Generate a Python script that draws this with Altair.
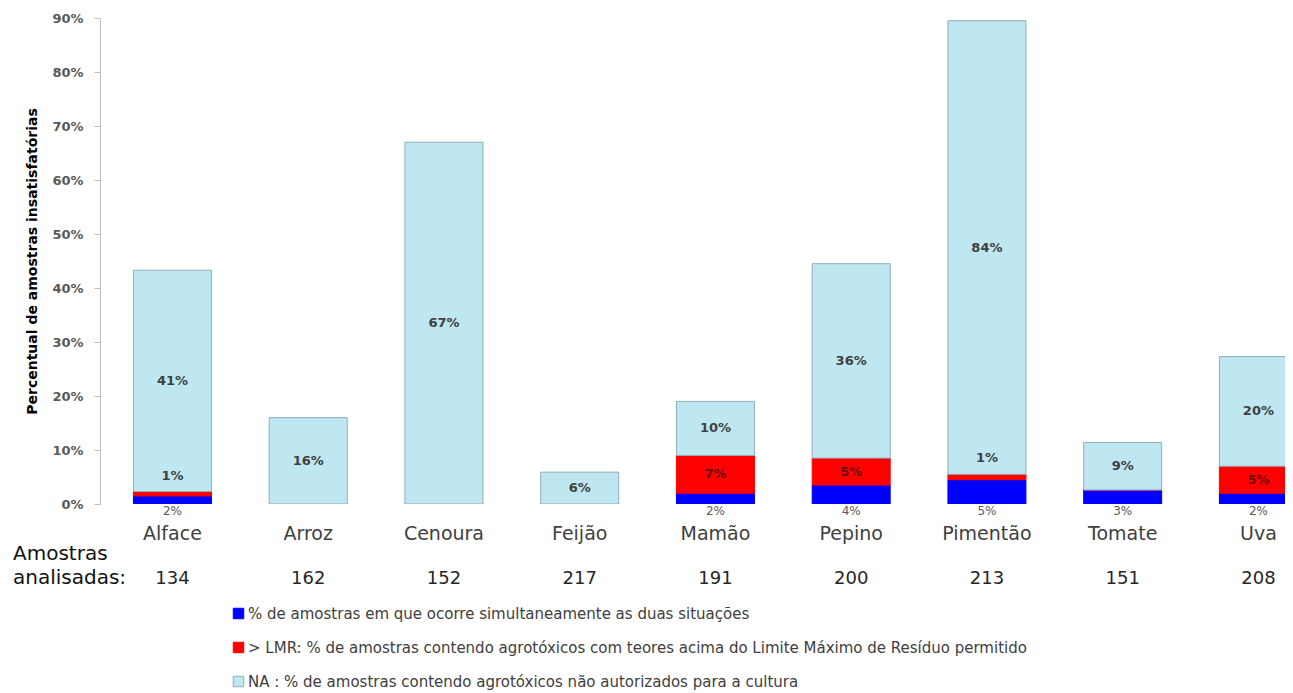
import altair as alt
import pandas as pd

categorias = ["Alface", "Arroz", "Cenoura", "Feijão", "Mamão", "Pepino", "Pimentão", "Tomate", "Uva"]
amostras = [134, 162, 152, 217, 191, 200, 213, 151, 208]
simultaneo = [1.5, 0, 0, 0, 2, 3.5, 4.5, 2.6, 2]
acima_lmr = [0.8, 0, 0, 0, 7, 5, 1, 0, 5]
nao_autorizado = [41, 16, 67, 5.9, 10, 36, 84, 8.8, 20.3]

series = [
    "% de amostras em que ocorre simultaneamente as duas situações",
    "> LMR: % de amostras contendo agrotóxicos com teores acima do Limite Máximo de Resíduo permitido",
    "NA : % de amostras contendo agrotóxicos não autorizados para a cultura",
]
cores = ["#0000FF", "#FF0000", "#BEE7F1"]
bordas = ["#0000FF", "#FF0000", "#8FAEB8"]

rows = []
for i, cat in enumerate(categorias):
    base = 0.0
    for k, vals in enumerate([simultaneo, acima_lmr, nao_autorizado]):
        v = vals[i]
        rows.append({
            "idx": i, "categoria": cat, "serie": series[k], "ordem": k,
            "valor": v, "base": base, "topo": base + v, "meio": base + v / 2,
            "rotulo": f"{round(v + 1e-9):.0f}%",
        })
        base += v
df = pd.DataFrame(rows)
cat_df = pd.DataFrame({"idx": list(range(len(categorias))), "categoria": categorias,
                       "n": [str(a) for a in amostras]})

W, H = 1185, 486
xscale = alt.Scale(domain=[-0.497, 8.159], nice=False, zero=False)
yscale = alt.Scale(domain=[0, 90], nice=False)
FONT = "DejaVu Sans"

x_enc = alt.X("idx:Q", scale=xscale, axis=None)

bars = alt.Chart(df).mark_bar(size=78, clip=True, strokeWidth=1).encode(
    x=x_enc,
    y=alt.Y("valor:Q", stack="zero", scale=yscale,
            axis=alt.Axis(values=list(range(0, 91, 10)), labelExpr="datum.value + '%'",
                          grid=False, domainColor="#BFBFBF", tickColor="#BFBFBF", tickSize=6,
                          labelFont=FONT, labelFontWeight="bold", labelFontSize=13,
                          labelColor="#595959", labelPadding=11,
                          title="Percentual de amostras insatisfatórias", titleFont=FONT,
                          titleFontSize=14, titleFontWeight="bold", titleColor="#000000",
                          titlePadding=12)),
    color=alt.Color("serie:N", scale=alt.Scale(domain=series, range=cores),
                    legend=alt.Legend(title=None, orient="none", legendX=131, legendY=588,
                                      direction="vertical", symbolType="square", symbolSize=110,
                                      labelFont=FONT, labelFontSize=15, labelColor="#404040",
                                      labelOffset=2,
                                      rowPadding=18, labelLimit=2000, symbolStrokeWidth=1)),
    stroke=alt.Stroke("serie:N", scale=alt.Scale(domain=series, range=bordas), legend=None),
    order=alt.Order("ordem:Q"),
)

txt = dict(font=FONT, fontSize=13, fontWeight="bold", color="#404040", baseline="middle")

na_lbl = alt.Chart(df).transform_filter("datum.ordem == 2 && datum.valor > 0").mark_text(**txt).encode(
    x=x_enc, y=alt.Y("meio:Q", scale=yscale), text="rotulo:N")
red_big = alt.Chart(df).transform_filter("datum.ordem == 1 && datum.valor >= 2").mark_text(
    **{**txt, "color": "#6a0d0d"}).encode(x=x_enc, y=alt.Y("meio:Q", scale=yscale), text="rotulo:N")
red_small = alt.Chart(df).transform_filter("datum.ordem == 1 && datum.valor > 0 && datum.valor < 2").mark_text(
    dy=-16, **txt).encode(x=x_enc, y=alt.Y("topo:Q", scale=yscale), text="rotulo:N")
blue_lbl = alt.Chart(df).transform_filter("datum.ordem == 0 && datum.valor > 0").mark_text(
    dy=7, font=FONT, fontSize=12, color="#595959", baseline="middle").encode(
    x=x_enc, y=alt.datum(0), text="rotulo:N")

cat_lbl = alt.Chart(cat_df).mark_text(dy=30, font=FONT, fontSize=19, color="#404040",
                                      baseline="middle").encode(
    x=x_enc, y=alt.datum(0), text="categoria:N")
n_lbl = alt.Chart(cat_df).mark_text(dy=75, font=FONT, fontSize=18, color="#262626",
                                    baseline="middle").encode(
    x=x_enc, y=alt.datum(0), text="n:N")
amostras_lbl = alt.Chart(pd.DataFrame({"t": [["Amostras", "analisadas:"]]})).mark_text(
    font=FONT, fontSize=20, color="#111111", align="left", baseline="middle",
    lineHeight=24, dy=50).encode(x=alt.value(-87), y=alt.datum(0), text="t")

chart = alt.layer(bars, na_lbl, red_big, red_small, blue_lbl, cat_lbl, n_lbl, amostras_lbl).properties(
    width=W, height=H,
    autosize=alt.AutoSizeParams(type="none"),
    padding={"left": 92, "top": 10, "right": 0, "bottom": 200},
    background="white",
).configure_view(stroke=None)

chart.save("out.html", embed_options={"renderer": "svg", "actions": False})
